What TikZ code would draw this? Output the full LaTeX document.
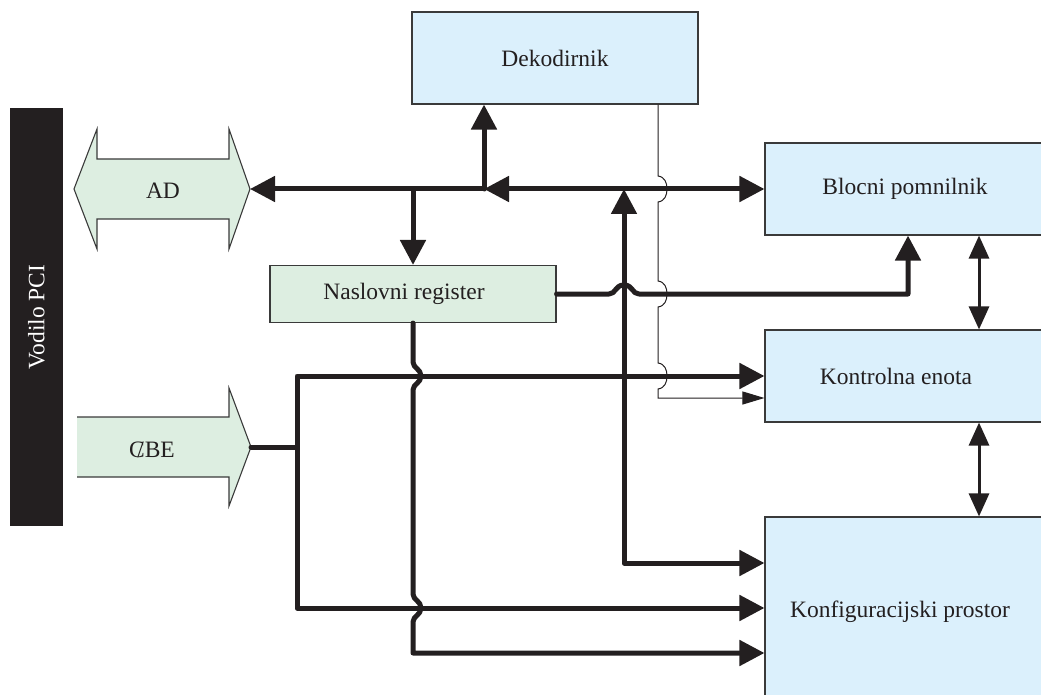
\documentclass[tikz,border=0pt]{standalone}
\usepackage{fontspec}
\setmainfont{Liberation Serif}
\usetikzlibrary{arrows.meta}
\definecolor{ink}{HTML}{231F20}
\definecolor{edge}{HTML}{3A3A3A}
\definecolor{boxblue}{HTML}{DBF0FC}
\definecolor{boxgreen}{HTML}{DDEEE1}
\begin{document}
\begin{tikzpicture}[x=1pt,y=-1pt,
  font=\fontsize{23.5}{28}\selectfont,
  block/.style={draw=edge, line width=1.1pt, fill=boxblue, inner sep=0pt, text=ink},
  greenblock/.style={block, fill=boxgreen},
  bus/.style={draw=ink, line width=5pt, line join=round, line cap=round},
  busarrow/.style={bus, -{Triangle[length=25pt,width=25pt]}},
  busboth/.style={bus, {Triangle[length=25pt,width=25pt]}-{Triangle[length=25pt,width=25pt]}},
  medboth/.style={draw=ink, line width=3pt, {Triangle[length=23pt,width=20pt]}-{Triangle[length=23pt,width=20pt]}},
  thinarrow/.style={draw=ink, line width=1pt, -{Triangle[length=22pt,width=13pt]}},
  arrowshape/.style={fill=boxgreen, draw=edge, line width=1.1pt, line join=miter},
]
\useasboundingbox (0,0) rectangle (1041,695);

% PCI bus bar
\node[fill=ink, text=white, rotate=90, minimum width=418pt, minimum height=53pt, inner sep=0pt] (pci) at (36.5,317) {Vodilo PCI};

% AD double arrow
\path[arrowshape] (74,189) -- (97,129) -- (97,159) -- (229,159) -- (229,129) -- (250,189)
  -- (229,249) -- (229,219) -- (97,219) -- (97,249) -- cycle;
\node[text=ink] (adlbl) at (163,191) {AD};

% C/BE arrow (open on the bar side)
\fill[boxgreen] (77,417) -- (229,417) -- (229,388) -- (251,447) -- (229,506) -- (229,477) -- (77,477) -- cycle;
\draw[draw=edge, line width=1.1pt, line join=miter] (77,417) -- (229,417) -- (229,388) -- (251,447) -- (229,506) -- (229,477) -- (77,477);
\node[text=ink] (cbelbl) at (152,450) {C\kern-0.32em/\kern0.04em BE};

% blocks (the right-hand ones run past the right edge)
\node[block, minimum width=286pt, minimum height=92pt] (dek) at (555,58) {Dekodirnik};
\node[block, minimum width=310pt, minimum height=92pt] (blk) at (920,189) {\hspace*{-30pt}Blocni pomnilnik};
\node[block, minimum width=310pt, minimum height=92pt] (kon) at (920,376) {\hspace*{-48pt}Kontrolna enota};
\node[block, minimum width=310pt, minimum height=190pt] (konf) at (920,612) {\hspace*{-40pt}Konfiguracijski prostor};
\node[greenblock, minimum width=286pt, minimum height=57pt] (nas) at (413,294) {\hspace*{-18pt}Naslovni register};

% junctions and routing columns
\coordinate (adtip) at (250,189);
\coordinate (cbetip) at (251,447);
\coordinate (bj) at (484,189);
\coordinate (nj) at (413,189);
\coordinate (cj) at (297,447);
\coordinate (vx) at (624,0);
\coordinate (tx) at (658,0);
\coordinate (px) at (908,0);
\coordinate (rx) at (979,0);
\coordinate (c1) at (624,563);
\coordinate (c2) at (297,608);
\coordinate (c3) at (413,653);
\coordinate (c4) at (658,398);

% address/data bus
\draw[busarrow] (bj) -- (adtip);
\draw[busboth] (bj) -- (blk.west);
\draw[busarrow] (bj) -- (bj |- dek.south);
\draw[busarrow] (nj) -- (nas.north);

% configuration space back onto the bus
\draw[busboth] (vx |- bj) -- (c1) -- (konf.west |- c1);

% address register to block memory
\draw[busarrow] (nas.east) -- (609,294)
  .. controls (616,294) and (615,285) .. (624,285)
  .. controls (633,285) and (632,294) .. (639,294)
  -- (px |- nas.east) -- (px |- blk.south);

% address register to configuration space
\draw[busarrow] (nas.south) -- (413,362)
  .. controls (413,368) and (421,369) .. (421,376)
  .. controls (421,383) and (413,384) .. (413,390)
  -- (413,594)
  .. controls (413,600) and (421,601) .. (421,608)
  .. controls (421,615) and (413,616) .. (413,622)
  -- (c3) -- (konf.west |- c3);

% C/BE lines
\draw[bus] (cbetip) -- (cj);
\draw[busarrow] (cj) |- (kon.west);
\draw[busarrow] (cj) -- (c2) -- (konf.west |- c2);

% decoder select line
\draw[thinarrow] (dek.south -| tx) -- (658,176)
  .. controls (665,177) and (667,183) .. (667,189)
  .. controls (667,195) and (665,201) .. (658,202)
  -- (658,281)
  .. controls (665,282) and (667,288) .. (667,294)
  .. controls (667,300) and (665,306) .. (658,307)
  -- (658,363)
  .. controls (665,364) and (667,370) .. (667,376)
  .. controls (667,382) and (665,388) .. (658,389)
  -- (c4) -- (kon.west |- c4);

% links between the right-hand blocks
\draw[medboth] (rx |- blk.south) -- (rx |- kon.north);
\draw[medboth] (rx |- kon.south) -- (rx |- konf.north);
\end{tikzpicture}
\end{document}
